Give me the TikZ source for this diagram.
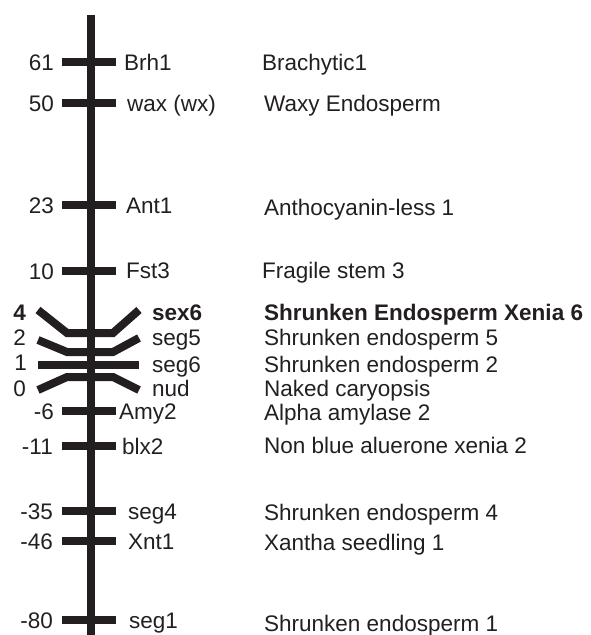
\documentclass[tikz,border=0pt]{standalone}
\usepackage{fontspec}
\setmainfont{Liberation Sans}
\definecolor{ink}{HTML}{231F20}
\begin{document}
\begin{tikzpicture}[x=1pt,y=-1pt,
  lbl/.style={inner sep=0pt, text height=16.1pt, text depth=0pt, font=\fontsize{22.5}{27}\selectfont, text=ink},
  num/.style={lbl, anchor=east},
  gene/.style={lbl, anchor=west},
  desc/.style={lbl, anchor=west},
  bar/.style={line width=8.5pt, draw=ink},
  chrom/.style={line width=8pt, draw=ink},
  cl/.style={line width=8pt, draw=ink, line join=miter},
]
\useasboundingbox (0,0) rectangle (591,635);
% chromosome
\coordinate (top) at (90.5,15);
\coordinate (bot) at (90.5,635);
\draw[chrom] (top) -- (bot);
% simple ticks
\foreach \y/\k in {62/a,103/b,205/c,271/d,411/e,446/f,511/g,541/h,620/i}{
  \coordinate (L\k) at (62,\y);
  \coordinate (R\k) at (116,\y);
  \draw[bar] (L\k) -- (R\k);
}
% cluster
\draw[cl] (38,310) -- (67,333) -- (113,333) -- (139,310);
\draw[cl] (38,340) -- (67,352) -- (113,352) -- (139,338);
\draw[cl] (38,365) -- (139,365);
\draw[cl] (38,390) -- (67,377) -- (113,377) -- (139,390);
% positions
\node[num] (p61) at (54,62) {61};
\node[num] (p50) at (54,103) {50};
\node[num] (p23) at (54,205) {23};
\node[num] (p10) at (54,271) {10};
\node[num,font=\fontsize{22.5}{27}\selectfont\bfseries] (p4) at (26,312) {4};
\node[num] (p2) at (26,337) {2};
\node[num] (p1) at (27,362) {1};
\node[num] (p0) at (26,388) {0};
\node[num] (pm6) at (54,411) {-6};
\node[num] (pm11) at (53,446) {-11};
\node[num] (pm35) at (53,511) {-35};
\node[num] (pm46) at (53,541) {-46};
\node[num] (pm80) at (53,620) {-80};
% genes
\node[gene] (gBrh) at (124,62) {Brh1};
\node[gene] (gwax) at (127,103) {wax (wx)};
\node[gene] (gAnt) at (126,205) {Ant1};
\node[gene] (gFst) at (126,270) {Fst3};
\node[gene,font=\fontsize{22.5}{27}\selectfont\bfseries] (gsex) at (152,312) {sex6};
\node[gene] (gseg5) at (152,337) {seg5};
\node[gene] (gseg6) at (152,364) {seg6};
\node[gene] (gnud) at (152,388) {nud};
\node[gene] (gAmy) at (119,411) {Amy2};
\node[gene] (gblx) at (122,446) {blx2};
\node[gene] (gseg4) at (128,511) {seg4};
\node[gene] (gXnt) at (128,541) {Xnt1};
\node[gene] (gseg1) at (129,620) {seg1};
% descriptions
\node[desc] (dBrh) at (262,62) {Brachytic1};
\node[desc] (dwax) at (264,103) {Waxy Endosperm};
\node[desc] (dAnt) at (264,207) {Anthocyanin-less 1};
\node[desc] (dFst) at (262,270) {Fragile stem 3};
\node[desc,font=\fontsize{22.5}{27}\selectfont\bfseries] (dsex) at (264,312) {Shrunken Endosperm Xenia 6};
\node[desc] (dseg5) at (264,337) {Shrunken endosperm 5};
\node[desc] (dseg6) at (264,364) {Shrunken endosperm 2};
\node[desc] (dnud) at (264,388) {Naked caryopsis};
\node[desc] (dAmy) at (264,412) {Alpha amylase 2};
\node[desc] (dblx) at (264,445) {Non blue aluerone xenia 2};
\node[desc] (dseg4) at (264,512) {Shrunken endosperm 4};
\node[desc] (dXnt) at (264,542) {Xantha seedling 1};
\node[desc] (dseg1) at (264,623) {Shrunken endosperm 1};
\end{tikzpicture}
\end{document}
